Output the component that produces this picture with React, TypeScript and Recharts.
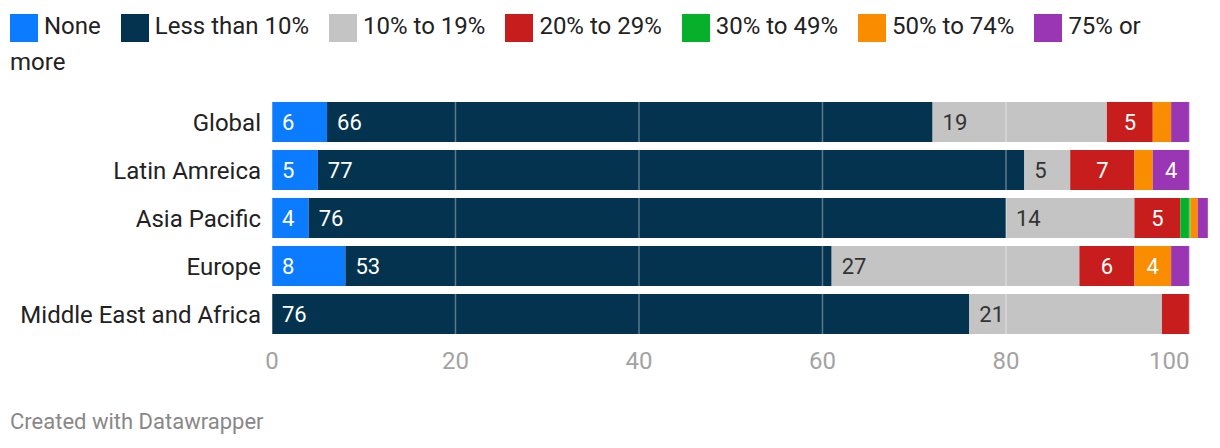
import React from "react";
import { BarChart, Bar, XAxis, YAxis, LabelList, ReferenceLine } from "recharts";

const regions = ["Global", "Latin Amreica", "Asia Pacific", "Europe", "Middle East and Africa"];
const none = [6, 5, 4, 8, 0];
const lessThan10 = [66, 77, 76, 53, 76];
const from10to19 = [19, 5, 14, 27, 21];
const from20to29 = [5, 7, 5, 6, 3];
const from30to49 = [0, 0, 1.1, 0, 0];
const from50to74 = [2, 2, 0.8, 4, 0];
const over75 = [2, 4, 1.1, 2, 0];

const xTicks = [0, 20, 40, 60, 80, 100];

const series = [
  { key: "none", name: "None", values: none, color: "#0b7bff", text: "#fff", align: "start" },
  { key: "lt10", name: "Less than 10%", values: lessThan10, color: "#03334e", text: "#fff", align: "start" },
  { key: "p10", name: "10% to 19%", values: from10to19, color: "#c4c4c4", text: "#333", align: "start" },
  { key: "p20", name: "20% to 29%", values: from20to29, color: "#c71e1d", text: "#fff", align: "middle" },
  { key: "p30", name: "30% to 49%", values: from30to49, color: "#06b02a", text: "#fff", align: "middle" },
  { key: "p50", name: "50% to 74%", values: from50to74, color: "#fa8c00", text: "#fff", align: "middle" },
  { key: "p75", name: "75% or\nmore", values: over75, color: "#9a36b4", text: "#fff", align: "middle" },
];

const data = regions.map((region, i) => {
  const row: any = { region };
  series.forEach(s => { row[s.key] = s.values[i]; });
  return row;
});

const FONT = "Roboto, sans-serif";

function makeLabel(align: string, color: string) {
  return (props: any) => {
    const { x, y, width, height, value } = props;
    if (value == null || value < 4) return null;
    const tx = align === "start" ? x + 10 : x + width / 2;
    return (
      <text
        x={tx}
        y={y + height / 2}
        dy="0.355em"
        textAnchor={align}
        fill={color}
        fontSize={22}
        fontFamily={FONT}
      >
        {Math.round(value)}
      </text>
    );
  };
}

function XTick({ x, y, payload }: any) {
  const last = payload.value === 100;
  return (
    <text x={x} y={y + 22} dy="0.355em" textAnchor={last ? "end" : "middle"}
      fill="#a3a3a3" fontSize={24} fontFamily={FONT}>
      {payload.value}
    </text>
  );
}

function YTick({ x, y, payload }: any) {
  return (
    <text x={x} y={y} dy="0.355em" textAnchor="end" fill="#222" fontSize={24} fontFamily={FONT}>
      {payload.value}
    </text>
  );
}

export default function App() {
  return (
    <div style={{ position: "absolute", left: 0, top: 0, width: 1220, height: 448, background: "#fff", fontFamily: FONT }}>
      <div style={{
        position: "absolute", left: 10, top: 8, width: 1170,
        fontSize: 24, lineHeight: "36px", color: "#222",
      }}>
        {series.map((s, i) => (
          <React.Fragment key={s.key}>
            <span style={{
              display: "inline-block", width: 28, height: 28, background: s.color,
              verticalAlign: "middle", marginLeft: i ? 20 : 0, marginRight: 6,
            }} />
            {s.name.split("\n").map((part, j) => (
              <React.Fragment key={j}>
                {j > 0 && <br />}
                <span style={{ whiteSpace: "nowrap" }}>{part}</span>
              </React.Fragment>
            ))}
          </React.Fragment>
        ))}
      </div>

      <div style={{ position: "absolute", left: 0, top: 0 }}>
        <BarChart
          width={1220}
          height={448}
          data={data}
          layout="vertical"
          margin={{ top: 98, right: 3, bottom: 0, left: 0 }}
        >
          <XAxis
            type="number"
            domain={[0, 103]}
            ticks={xTicks}
            height={110}
            axisLine={false}
            tickLine={false}
            tickSize={0}
            tickMargin={0}
            tick={<XTick />}
          />
          <YAxis
            type="category"
            dataKey="region"
            width={272}
            axisLine={false}
            tickLine={false}
            tickSize={0}
            tickMargin={11}
            tick={<YTick />}
          />
          {series.map(s => (
            <Bar key={s.key} dataKey={s.key} name={s.name} stackId="a" fill={s.color}
              barSize={40} isAnimationActive={false}>
              <LabelList dataKey={s.key} content={makeLabel(s.align, s.text)} />
            </Bar>
          ))}
          {xTicks.map(t => (
            <ReferenceLine key={t} x={t} stroke="#fff" strokeOpacity={0.35} strokeWidth={1.5} />
          ))}
        </BarChart>
      </div>

      <div style={{ position: "absolute", left: 10, top: 409, fontSize: 22, lineHeight: "26px", color: "#888" }}>
        Created with Datawrapper
      </div>
    </div>
  );
}
